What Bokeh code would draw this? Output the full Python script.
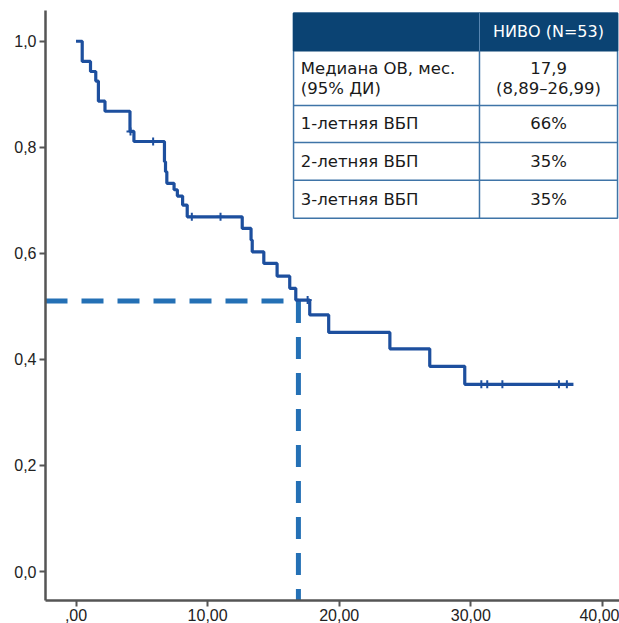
from bokeh.plotting import figure
from bokeh.models import FixedTicker, Range1d
from bokeh.core.properties import value
from bokeh.embed import file_html
from bokeh.resources import INLINE

# ---- data ----
event_times = [0.0, 0.47, 1.1, 1.5, 1.7, 2.2, 4.1, 4.4, 6.72, 6.8, 6.9, 7.45, 7.7, 8.1, 8.45,
               12.63, 13.3, 13.39, 14.27, 15.28, 16.24, 16.7, 17.76, 19.2, 23.85, 26.88, 29.54, 37.8]
survival = [1.0, 0.962, 0.943, 0.925, 0.887, 0.868, 0.830, 0.811, 0.773, 0.754, 0.732, 0.72, 0.708, 0.691, 0.669,
            0.647, 0.625, 0.603, 0.581, 0.557, 0.534, 0.512, 0.484, 0.451, 0.420, 0.387, 0.353, 0.353]
censor_times = [4.14, 5.86, 8.8, 10.98, 17.6, 30.8, 31.25, 32.4, 36.7, 37.3]
censor_surv = [0.830, 0.811, 0.669, 0.669, 0.512, 0.353, 0.353, 0.353, 0.353, 0.353]
median_time = 16.9
median_surv = 0.51

x_ticks = [0, 10, 20, 30, 40]
x_tick_labels = [",00", "10,00", "20,00", "30,00", "40,00"]
y_ticks = [0.0, 0.2, 0.4, 0.6, 0.8, 1.0]
y_tick_labels = ["0,0", "0,2", "0,4", "0,6", "0,8", "1,0"]

table_header = ["", "НИВО (N=53)"]
table_rows = [
    (["Медиана ОВ, мес.", "(95% ДИ)"], ["17,9", "(8,89–26,99)"]),
    (["1-летняя ВБП"], ["66%"]),
    (["2-летняя ВБП"], ["35%"]),
    (["3-летняя ВБП"], ["35%"]),
]

AXFONT = "Liberation Sans"
TFONT = value("DejaVu Sans")
CURVE = "#1d4f9e"
DASH = "#2470b5"

XMIN, XMAX = -2.32, 41.3
YMIN, YMAX = -0.0546, 1.058

p = figure(width=619, height=623, output_backend="svg", toolbar_location=None,
           x_range=Range1d(XMIN, XMAX), y_range=Range1d(YMIN, YMAX),
           min_border_left=45, min_border_right=0, min_border_top=10, min_border_bottom=0)
p.outline_line_color = None
p.grid.visible = False
p.background_fill_color = "white"

for ax, ticks, labels in ((p.xaxis[0], x_ticks, x_tick_labels), (p.yaxis[0], y_ticks, y_tick_labels)):
    ax.ticker = FixedTicker(ticks=ticks)
    ax.major_label_overrides = {t: l for t, l in zip(ticks, labels)}
    ax.axis_line_color = "#555555"
    ax.axis_line_width = 2.5
    ax.major_tick_line_color = "#555555"
    ax.major_tick_line_width = 2
    ax.major_tick_out = 6
    ax.major_tick_in = 0
    ax.minor_tick_out = 0
    ax.minor_tick_in = 0
    ax.major_label_text_font = AXFONT
    ax.major_label_text_font_size = "16px"
    ax.major_label_text_color = "#222222"
    ax.major_label_standoff = 3
p.xaxis[0].major_label_standoff = 2
p.yaxis[0].major_label_orientation = "horizontal"

# ---- table (annotation) ----
t_left, t_mid, t_right = 16.53, 30.66, 41.15
t_lines = [1.053, 0.982, 0.879, 0.809, 0.738, 0.666]
p.quad(left=[t_left], right=[t_right], top=[t_lines[0]], bottom=[t_lines[-1]],
       fill_color="white", line_color="#3f74a7", line_width=1.5)
p.quad(left=[t_left], right=[t_right], top=[t_lines[0]], bottom=[t_lines[1]],
       fill_color="#0b4373", line_color="#0b4373", line_width=1.5)
for yl in t_lines[2:-1]:
    p.line([t_left, t_right], [yl, yl], line_color="#3f74a7", line_width=1.5)
p.line([t_mid, t_mid], [t_lines[1], t_lines[-1]], line_color="#3f74a7", line_width=1.5)
p.line([t_mid, t_mid], [t_lines[0], t_lines[1]], line_color="#5a86b3", line_width=1)

p.text(x=[(t_mid + t_right) / 2], y=[(t_lines[0] + t_lines[1]) / 2], text=[table_header[1]],
       text_font=TFONT, text_font_size="16px", text_color="white",
       text_align="center", text_baseline="middle")
tx, ty, tt, cx, cy, ct = [], [], [], [], [], []
step = 0.038
for i, (left_lines, right_lines) in enumerate(table_rows):
    top, bot = t_lines[i + 1], t_lines[i + 2]
    mid = (top + bot) / 2
    n = len(left_lines)
    for k, s in enumerate(left_lines):
        tx.append(t_left + 0.55)
        ty.append(mid + (n - 1) / 2 * step - k * step)
        tt.append(s)
    for k, s in enumerate(right_lines):
        cx.append((t_mid + t_right) / 2)
        cy.append(mid + (n - 1) / 2 * step - k * step)
        ct.append(s)
p.text(x=tx, y=ty, text=tt, text_font=TFONT, text_font_size="16.5px", text_color="#1a1a1a",
       text_align="left", text_baseline="middle")
p.text(x=cx, y=cy, text=ct, text_font=TFONT, text_font_size="16.5px", text_color="#1a1a1a",
       text_align="center", text_baseline="middle")

# ---- median dashed lines ----
p.line([XMIN, median_time], [median_surv, median_surv], line_color=DASH, line_width=5,
       line_dash="22 14", line_cap="butt")
p.line([median_time, median_time], [median_surv, YMIN], line_color=DASH, line_width=5,
       line_dash="22 14", line_cap="butt")

# ---- KM curve ----
p.step(x=event_times, y=survival, mode="after", line_color=CURVE, line_width=3.2)
p.scatter(x=censor_times, y=censor_surv, marker="cross", size=8, line_color=CURVE, line_width=2)

open("out.html", "w").write(file_html(p, INLINE))
